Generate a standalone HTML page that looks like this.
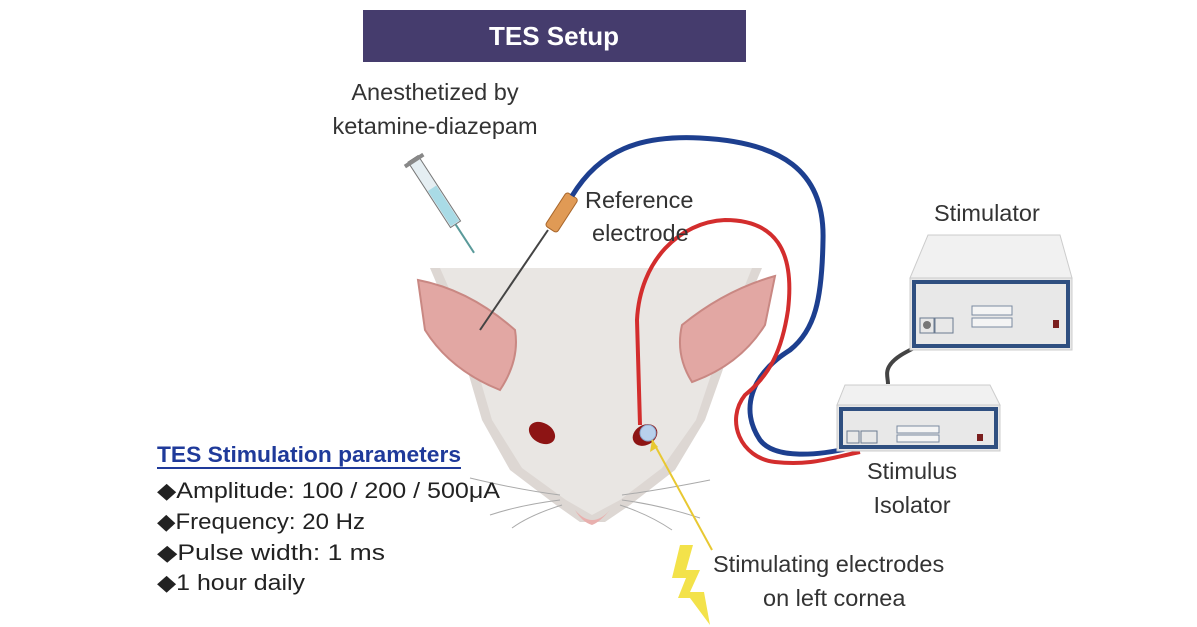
<!DOCTYPE html>
<html><head><meta charset="utf-8"><style>
html,body{margin:0;padding:0;background:#fff;}
svg{display:block;}
text{font-family:"Liberation Sans",sans-serif;}
</style></head><body>
<svg width="1197" height="627" viewBox="0 0 1197 627" xmlns="http://www.w3.org/2000/svg">
<!-- title -->
<rect x="363" y="10" width="383" height="52" fill="#453c6d"/>
<text x="554" y="45" font-size="26" font-weight="bold" fill="#fff" text-anchor="middle">TES Setup</text>
<text x="435" y="100" font-size="23.5" fill="#333" text-anchor="middle">Anesthetized by</text>
<text x="435" y="134" font-size="23.5" fill="#333" text-anchor="middle">ketamine-diazepam</text>

<!-- rat head -->
<path d="M430,268 L762,268 L740,320 L722,372 L705,420 L675,470 L630,505 L605,522 L580,522 L556,505 L510,470 L482,420 L468,372 L452,320 Z" fill="#ddd7d3"/>
<path d="M440,268 L752,268 L732,318 L712,372 L696,420 L662,468 L620,500 L592,515 L566,500 L522,468 L492,420 L478,372 L462,318 Z" fill="#e9e6e3"/>
<path d="M575,510 Q592,530 610,510 Q600,522 592,525 Q582,522 575,510Z" fill="#e8b0ae"/>
<!-- whiskers -->
<g stroke="#aaa" stroke-width="1" fill="none">
<path d="M560,495 Q520,490 470,478"/><path d="M560,500 Q520,505 490,515"/><path d="M562,505 Q530,515 512,528"/>
<path d="M622,495 Q660,490 710,480"/><path d="M622,500 Q660,505 700,518"/><path d="M620,505 Q650,515 672,530"/>
</g>
<!-- ears -->
<path d="M418,280 Q470,290 515,330 Q520,360 500,390 Q450,370 425,330 Z" fill="#e2a7a3" stroke="#c98883" stroke-width="2"/>
<path d="M775,276 Q725,290 682,325 Q675,355 692,382 Q740,365 765,325 Z" fill="#e2a7a3" stroke="#c98883" stroke-width="2"/>
<!-- eyes -->
<ellipse cx="542" cy="433" rx="14" ry="10" fill="#8d1414" transform="rotate(30 542 433)"/>
<ellipse cx="645" cy="435" rx="13" ry="10" fill="#8d1414" transform="rotate(-30 645 435)"/>
<circle cx="648" cy="433" r="8" fill="#b8d0ec" stroke="#8aa7cc"/>

<!-- syringe -->
<g transform="rotate(-33 443 205)">
<rect x="437" y="150" width="12" height="78" fill="#e5eef2" stroke="#777"/>
<rect x="438" y="185" width="10" height="42" fill="#a9dbe6"/>
<rect x="432" y="150" width="22" height="4" fill="#888"/>
<line x1="443" y1="228" x2="443" y2="262" stroke="#5a9a9a" stroke-width="2"/>
</g>
<!-- reference electrode -->
<line x1="548" y1="230" x2="480" y2="330" stroke="#444" stroke-width="2"/>
<g transform="rotate(33 560 215)">
<rect x="553" y="192" width="14" height="40" rx="3" fill="#e09a55" stroke="#a8662b"/>
</g>

<!-- wires -->
<path d="M572,196 C600,150 640,135 700,138 C780,142 825,170 823,240 C822,300 815,330 790,350 C750,375 740,410 760,440 C775,460 820,455 850,448" fill="none" stroke="#1d3f8f" stroke-width="5"/>
<path d="M640,425 L637,320 C640,260 680,222 725,220 C775,220 795,250 788,310 C782,350 770,375 745,395 C725,420 740,458 775,462 C810,466 830,458 860,452" fill="none" stroke="#d32d2d" stroke-width="4"/>
<path d="M940,330 C930,345 900,350 890,365 C885,372 888,378 888,384" fill="none" stroke="#444" stroke-width="4"/>

<!-- stimulator -->
<path d="M928,235 L1060,235 L1072,278 L910,278 Z" fill="#f1f1f1" stroke="#ccc"/>
<rect x="910" y="278" width="162" height="72" fill="#e8e8e8" stroke="#ccc"/>
<rect x="914" y="282" width="154" height="64" fill="#e8e8e8" stroke="#2f4f80" stroke-width="4"/>
<rect x="920" y="318" width="14" height="15" fill="none" stroke="#6a7a90"/>
<rect x="935" y="318" width="18" height="15" fill="none" stroke="#6a7a90"/>
<circle cx="927" cy="325" r="4" fill="#777"/>
<rect x="972" y="306" width="40" height="9" fill="#f4f4f4" stroke="#7a8aa0"/>
<rect x="972" y="318" width="40" height="9" fill="#f4f4f4" stroke="#7a8aa0"/>
<rect x="1053" y="320" width="6" height="8" fill="#7a1f1f"/>
<!-- isolator -->
<path d="M845,385 L990,385 L1000,405 L837,405 Z" fill="#f1f1f1" stroke="#ccc"/>
<rect x="837" y="405" width="163" height="46" fill="#e8e8e8" stroke="#ccc"/>
<rect x="841" y="409" width="155" height="38" fill="#e8e8e8" stroke="#2f4f80" stroke-width="4"/>
<rect x="847" y="431" width="12" height="12" fill="none" stroke="#6a7a90"/>
<rect x="861" y="431" width="16" height="12" fill="none" stroke="#6a7a90"/>
<rect x="897" y="426" width="42" height="7" fill="#f4f4f4" stroke="#7a8aa0"/>
<rect x="897" y="435" width="42" height="7" fill="#f4f4f4" stroke="#7a8aa0"/>
<rect x="977" y="434" width="6" height="7" fill="#7a1f1f"/>

<!-- labels -->
<text x="585" y="208" font-size="23.5" fill="#333">Reference</text>
<text x="592" y="241" font-size="23.5" fill="#333">electrode</text>
<text x="934" y="221" font-size="23.5" fill="#333">Stimulator</text>
<text x="912" y="479" font-size="23.5" fill="#333" text-anchor="middle">Stimulus</text>
<text x="912" y="513" font-size="23.5" fill="#333" text-anchor="middle">Isolator</text>
<text x="713" y="572" font-size="23.5" fill="#333">Stimulating electrodes</text>
<text x="763" y="606" font-size="23.5" fill="#333">on left cornea</text>

<!-- yellow pointer + bolt -->
<line x1="712" y1="550" x2="652" y2="440" stroke="#e8c832" stroke-width="2"/>
<path d="M652,440 L650,452 L658,447 Z" fill="#e8c832"/>
<path d="M680,545 L693,545 L686,570 L700,570 L690,592 L704,592 L710,625 L690,598 L678,598 L686,578 L672,578 Z" fill="#f3e24a"/>

<!-- parameters -->
<text x="157" y="462" font-size="22" font-weight="bold" fill="#1f3a9a" textLength="304" lengthAdjust="spacingAndGlyphs">TES Stimulation parameters</text>
<rect x="157" y="467" width="304" height="2" fill="#1f3a9a"/>
<g font-size="22" fill="#222">
<text x="157" y="498" textLength="343" lengthAdjust="spacingAndGlyphs">◆Amplitude: 100 / 200 / 500μA</text>
<text x="157" y="529" textLength="208" lengthAdjust="spacingAndGlyphs">◆Frequency: 20 Hz</text>
<text x="157" y="560" textLength="228" lengthAdjust="spacingAndGlyphs">◆Pulse width: 1 ms</text>
<text x="157" y="590" textLength="148" lengthAdjust="spacingAndGlyphs">◆1 hour daily</text>
</g>
</svg>
</body></html>
